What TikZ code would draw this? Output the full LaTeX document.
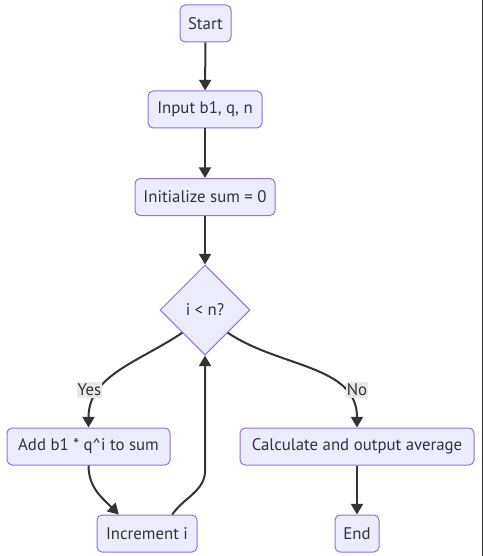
\documentclass[tikz,border=0pt]{standalone}
\usepackage{fontspec}
\setmainfont{PT Sans}
\usetikzlibrary{shapes.geometric,arrows.meta}
\definecolor{boxfill}{HTML}{ECECFF}
\definecolor{boxline}{HTML}{9370DB}
\definecolor{linegray}{HTML}{333333}
\definecolor{lblgray}{HTML}{E8E8E8}

\begin{document}
\begin{tikzpicture}[x=0.75pt,y=0.75pt]
            \tikzset{box/.style = {rectangle, rounded corners=3.75pt, fill=boxfill, draw=boxline, line width=0.75pt, minimum height=27.75pt, inner sep=0pt, text=linegray, font=\fontsize{12.6}{14}\selectfont}}
            \tikzset{decide/.style = {diamond, fill=boxfill, draw=boxline, line width=0.75pt, minimum width=67.5pt, minimum height=67.5pt, inner sep=0pt, text=linegray, font=\fontsize{12.6}{14}\selectfont}}
            \tikzset{flow/.style = {draw=linegray, line width=1.5pt, -{Triangle[length=8pt,width=9pt]}}}
            \tikzset{lbl/.style = {fill=lblgray, inner xsep=0.5pt, inner ysep=0pt, minimum height=12pt, text=linegray, font=\fontsize{12.6}{14}\selectfont}}
            \useasboundingbox (0,0) rectangle (483,-556);
            \fill[white] (0,0) rectangle (483,-556);
            \fill[linegray] (481.5,0) rectangle (483,-556);
            
            \node[box, minimum width=38.25pt] (start) at (205.5,-23.5) {Start};
            \node[box, minimum width=85.5pt] (input) at (205,-109.5) {Input b1, q, n};
            \node[box, minimum width=105pt] (init) at (205,-197) {Initialize sum = 0};
            \node[decide] (check) at (205,-310) {i < n?};
            \node[box, minimum width=122.25pt] (add) at (88.5,-446.5) {Add b1 * q\textasciicircum i to sum};
            \node[box, minimum width=175.5pt] (calc) at (357,-446.5) {Calculate and output average};
            \node[box, minimum width=75pt] (inc) at (147,-533.5) {Increment i};
            \node[box, minimum width=33pt] (stop) at (357,-533.5) {End};
            
            \draw[flow] (start) -- (input);
            \draw[flow] (input) -- (init);
            \draw[flow] (init) -- (check);
            \draw[flow] (check.south west) to[out=214, in=90] (add);
            \draw[flow] (check.south east) to[out=-34, in=90] (calc);
            \draw[flow] (add) to[out=-90, in=135] (inc.146);
            \draw[flow] (inc.37) to[out=55, in=-90] ++(33,45) -- (check.south);
            \draw[flow] (calc) -- (stop);
            
            \node[lbl] (yes) at (89.5,-390) {Yes};
            \node[lbl] (no) at (357,-390) {No};
            
        \end{tikzpicture}
\end{document}
